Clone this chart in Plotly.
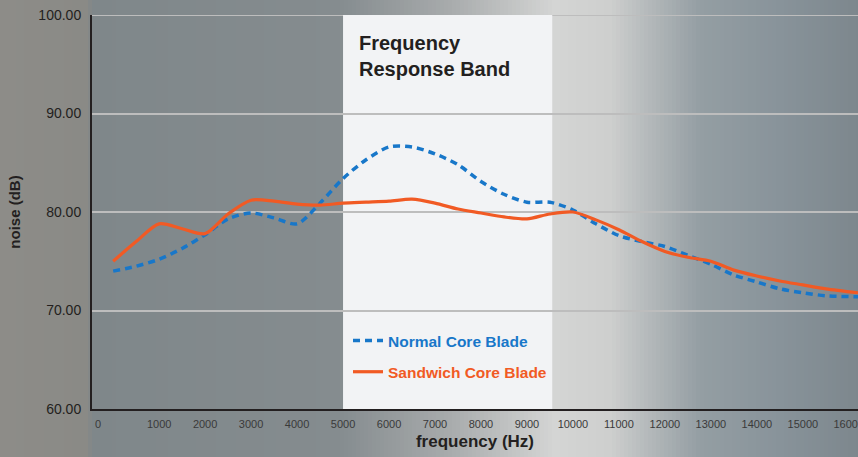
import plotly.graph_objects as go

# ---------------- data ----------------
freq_hz = [0, 500, 1000, 1500, 2000, 2500, 3000, 3500, 4000, 4500, 5000, 5500,
           6000, 6500, 7000, 7500, 8000, 8500, 9000, 9500, 10000, 10500, 11000,
           11500, 12000, 12500, 13000, 13500, 14000, 14500, 15000, 15500, 16200]

normal_core = [74.0, 74.5, 75.2, 76.3, 77.7, 79.3, 79.9, 79.4, 78.8, 80.9, 83.4, 85.3,
               86.6, 86.6, 85.9, 84.8, 83.1, 81.8, 81.0, 81.0, 80.2, 78.8, 77.6,
               77.0, 76.5, 75.6, 74.7, 73.6, 72.9, 72.2, 71.8, 71.5, 71.4]

sandwich_core = [75.0, 77.0, 78.8, 78.3, 77.8, 79.8, 81.2, 81.1, 80.8, 80.7, 80.9, 81.0,
                 81.1, 81.3, 80.9, 80.3, 79.9, 79.5, 79.3, 79.8, 80.0, 79.2, 78.2,
                 77.0, 76.0, 75.4, 75.0, 74.1, 73.5, 73.0, 72.6, 72.2, 71.8]

band_start_hz = 5000
band_end_hz = 9550

x_tick_vals = [-330, 1000, 2000, 3000, 4000, 5000, 6000, 7000, 8000, 9000, 10000,
               11000, 12000, 13000, 14000, 15000, 16000]
x_tick_text = ["0", "1000", "2000", "3000", "4000", "5000", "6000", "7000", "8000",
               "9000", "10000", "11000", "12000", "13000", "14000", "15000", "16000"]
y_tick_vals = [60, 70, 80, 90, 100]

# ---------------- style ----------------
W, H = 858, 457
ML, MR, MT, MB = 92, 0, 15, 48
PW = W - ML - MR
PH = H - MT - MB

BLUE = "#1877c9"
ORANGE = "#f15a24"
GRID = "#bdbdbd"
NARROW = "Liberation Sans Narrow, Arial Narrow, Liberation Sans, Arial, sans-serif"

# background horizontal gradient stops (pixel x, rgb)
stops = [(0, (141, 140, 136)), (88, (138, 138, 134)), (92, (127, 135, 138)),
         (340, (133, 140, 143)), (450, (168, 171, 172)), (555, (212, 213, 212)),
         (610, (206, 207, 206)), (650, (179, 184, 186)), (700, (148, 158, 163)),
         (780, (136, 147, 154)), (858, (125, 135, 141))]


def color_at(px):
    for (x0, c0), (x1, c1) in zip(stops[:-1], stops[1:]):
        if x0 <= px <= x1:
            t = 0 if x1 == x0 else (px - x0) / (x1 - x0)
            c = [round(a + (b - a) * t) for a, b in zip(c0, c1)]
            return "rgb(%d,%d,%d)" % tuple(c)
    return "rgb(%d,%d,%d)" % stops[-1][1]


shapes = []
step = 4
for px in range(0, W, step):
    shapes.append(dict(type="rect", xref="paper", yref="paper",
                       x0=(px - ML) / PW, x1=(px + step + 0.5 - ML) / PW,
                       y0=-0.2, y1=1.1, fillcolor=color_at(px + step / 2),
                       line=dict(width=0), layer="below"))

shapes.append(dict(type="rect", xref="x", yref="y", x0=band_start_hz, x1=band_end_hz,
                   y0=60, y1=100, fillcolor="#f2f3f5", line=dict(width=0),
                   layer="below"))
# top gridline (plotly skips the grid line at the range edge)
shapes.append(dict(type="line", xref="paper", yref="y", x0=0, x1=1, y0=100, y1=100,
                   line=dict(color=GRID, width=2), layer="below"))

fig = go.Figure()
fig.add_trace(go.Scatter(
    x=freq_hz, y=normal_core, mode="lines",
    name="<b><span style='color:%s'>Normal Core Blade</span></b>" % BLUE,
    line=dict(color=BLUE, width=3.5, dash="7px,5px", shape="spline", smoothing=0.8),
    legendgroup="a"))
fig.add_trace(go.Scatter(
    x=freq_hz, y=sandwich_core, mode="lines",
    name="<b><span style='color:%s'>Sandwich Core Blade</span></b>" % ORANGE,
    line=dict(color=ORANGE, width=3.2, shape="spline", smoothing=0.8),
    legendgroup="b"))

fig.update_layout(
    width=W, height=H,
    margin=dict(l=ML, r=MR, t=MT, b=MB, autoexpand=False),
    paper_bgcolor="#8a8a88", plot_bgcolor="rgba(0,0,0,0)",
    shapes=shapes,
    showlegend=True,
    legend=dict(x=(348 - ML) / PW, y=(H - MB - 324) / PH, xanchor="left",
                yanchor="top", bgcolor="rgba(0,0,0,0)",
                font=dict(family=NARROW, size=15.5),
                tracegroupgap=8, itemwidth=30),
    annotations=[dict(text="<b>Frequency<br>Response Band</b>", xref="paper", yref="paper",
                      x=(357 - ML) / PW, y=(H - MB - 30) / PH,
                      xanchor="left", yanchor="top", align="left", showarrow=False,
                      font=dict(family=NARROW, size=20, color="#231f20"))],
    xaxis=dict(range=[-460, 16200], tickmode="array", tickvals=x_tick_vals,
               ticktext=x_tick_text, showgrid=False, zeroline=False,
               showline=True, linecolor="#231f20", linewidth=2, ticks="",
               ticklabelstandoff=4, ticklabeloverflow="allow",
               tickfont=dict(family=NARROW, size=11, color="#3a3a3a"),
               title=dict(text="<b>frequency (Hz)</b>", standoff=6,
                          font=dict(family=NARROW, size=17, color="#231f20"))),
    yaxis=dict(range=[60, 100], tickmode="array", tickvals=y_tick_vals,
               tickformat=".2f", showgrid=True, gridcolor=GRID, gridwidth=2,
               zeroline=False, showline=True, linecolor="#231f20", linewidth=2,
               ticks="", ticklabelstandoff=6,
               tickfont=dict(family="Liberation Sans, Arial, sans-serif", size=14,
                             color="#231f20"),
               title=dict(text="<b>noise (dB)</b>", standoff=14,
                          font=dict(family=NARROW, size=15, color="#231f20"))),
)

fig.write_html("out.html", config={"displayModeBar": False},
               post_script="document.body.style.margin='0';")
